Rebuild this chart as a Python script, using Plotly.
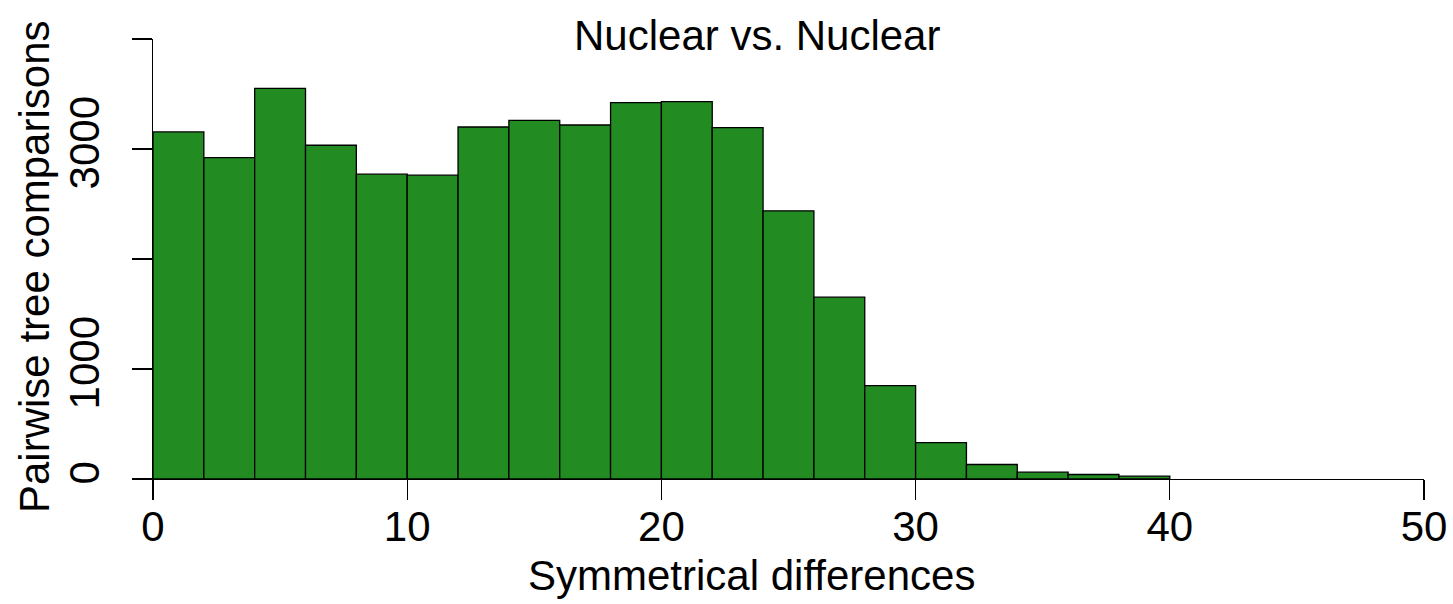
import plotly.graph_objects as go

# Data (histogram of symmetrical differences)
bin_left = [0, 2, 4, 6, 8, 10, 12, 14, 16, 18, 20, 22, 24, 26, 28, 30, 32, 34, 36, 38]
bin_width = 2
counts = [3155, 2922, 3551, 3034, 2771, 2762, 3200, 3261, 3218, 3421,
          3430, 3195, 2438, 1653, 848, 331, 132, 62, 41, 26]
x_ticks = [0, 10, 20, 30, 40, 50]
y_ticks = [0, 1000, 2000, 3000, 4000]
y_ticktext = ["0", "1000", "", "3000", ""]

title_text = "Nuclear vs. Nuclear"
x_title = "Symmetrical differences"
y_title = "Pairwise tree comparisons"

W, H = 1453, 604
L, R, T, B = 153, 29, 39, 125
FONT = "Liberation Sans, Arial, Helvetica, sans-serif"
FS = 42

def px_x(p):
    return (p - L) / (W - L - R)

def px_y(p):
    return (H - B - p) / (H - T - B)

centers = [b + bin_width / 2 for b in bin_left]

fig = go.Figure(go.Bar(
    x=centers, y=counts, width=bin_width,
    marker=dict(color="#228B22", line=dict(color="black", width=1.3)),
    hoverinfo="skip",
))

fig.update_layout(
    width=W, height=H,
    margin=dict(l=L, r=R, t=T, b=B, pad=0, autoexpand=False),
    paper_bgcolor="white", plot_bgcolor="white",
    bargap=0, showlegend=False,
    font=dict(family=FONT, size=FS, color="black"),
    xaxis=dict(range=[0, 50], tickvals=x_ticks, showline=True, linecolor="black",
               linewidth=1.3, ticks="outside", ticklen=20, tickwidth=1.3, tickcolor="black",
               showgrid=False, zeroline=False, automargin=False, ticklabelstandoff=-10,
               tickfont=dict(size=FS, family=FONT)),
    yaxis=dict(range=[0, 4000], tickvals=y_ticks, ticktext=y_ticktext, tickangle=-90,
               showline=True, linecolor="black", linewidth=1.3, ticks="outside",
               ticklen=20, tickwidth=1.3, tickcolor="black", automargin=False,
               ticklabelstandoff=16,
               showgrid=False, zeroline=False, tickfont=dict(size=FS, family=FONT)),
    annotations=[
        dict(text=title_text, xref="paper", yref="paper", x=px_x(757), y=px_y(36),
             xanchor="center", yanchor="middle", showarrow=False,
             font=dict(size=FS, family=FONT)),
        dict(text=x_title, xref="paper", yref="paper", x=px_x(751), y=px_y(575),
             xanchor="center", yanchor="middle", showarrow=False,
             font=dict(size=FS, family=FONT)),
        dict(text=y_title, xref="paper", yref="paper", x=px_x(34), y=px_y(267),
             xanchor="center", yanchor="middle", showarrow=False, textangle=-90,
             font=dict(size=FS, family=FONT)),
    ],
)

fig.write_html("out.html", config={"displayModeBar": False, "staticPlot": True},
               post_script="document.body.style.margin='0';document.body.style.overflow='hidden';")
